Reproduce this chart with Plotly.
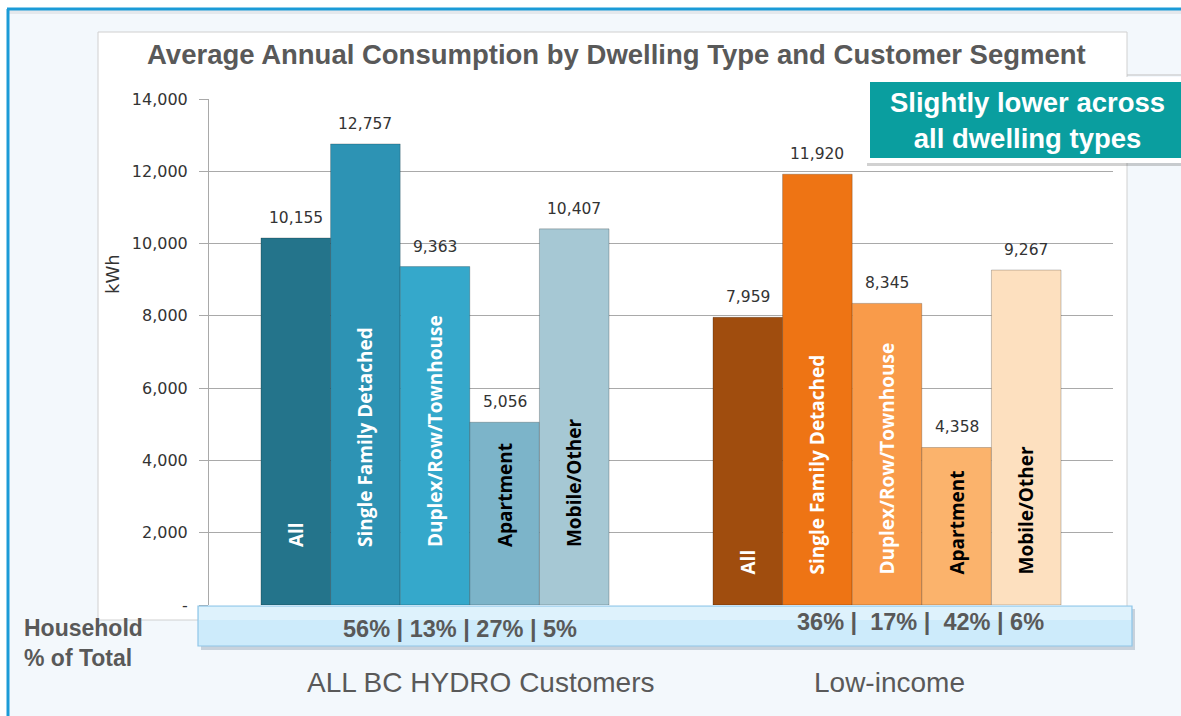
import plotly.graph_objects as go

# ---- data -------------------------------------------------------------
segments = ["ALL BC HYDRO Customers", "Low-income"]
dwelling_types = ["All", "Single Family Detached", "Duplex/Row/Townhouse",
                  "Apartment", "Mobile/Other"]
all_customers_kwh = [10155, 12757, 9363, 5056, 10407]
low_income_kwh = [7959, 11920, 8345, 4358, 9267]
household_share_all = ["56%", "13%", "27%", "5%"]
household_share_low = ["36%", "17%", "42%", "6%"]
y_ticks = [0, 2000, 4000, 6000, 8000, 10000, 12000, 14000]
y_tick_labels = ["-", "2,000", "4,000", "6,000", "8,000", "10,000", "12,000", "14,000"]

# ---- styling ----------------------------------------------------------
blues = ["#24748b", "#2d93b4", "#35a8cb", "#7cb4c9", "#a6c8d4"]
oranges = ["#a04d0e", "#ee7414", "#f99b4a", "#fbb36c", "#fde0bf"]
name_colors = ["white", "white", "white", "black", "black"]
name_base = [1520, 760]          # where the rotated names start in each group (kWh)
GRAY = "#595959"
SANS = "Liberation Sans, Arial, sans-serif"
BARGAP = 0.23

W, H = 1181, 716
L, R, T, B = 209, 1113, 99, 605   # plot area in pixels


def px(x):
    return (x - L) / (R - L)


def py(y):
    return (B - y) / (B - T)


# width of one bar in pixels, used to centre the value labels over the bars
n_types = len(dwelling_types)
bar_px = (R - L) / len(segments) * (1 - BARGAP) / n_types

fig = go.Figure()

value_annotations = []
for i, name in enumerate(dwelling_types):
    vals = [all_customers_kwh[i], low_income_kwh[i]]
    fig.add_trace(go.Bar(
        x=segments, y=vals,
        marker=dict(color=[blues[i], oranges[i]],
                    line=dict(color="rgba(0,0,0,0.22)", width=1)),
        offsetgroup=str(i),
        hoverinfo="skip",
        showlegend=False,
    ))
    # rotated dwelling-type names inside each bar
    fig.add_trace(go.Bar(
        x=segments, y=[v - b for v, b in zip(vals, name_base)], base=name_base,
        marker=dict(color="rgba(0,0,0,0)", line=dict(width=0)),
        text=[name, name],
        textposition="inside", insidetextanchor="start", textangle=-90,
        constraintext="none",
        insidetextfont=dict(family="Open Sans", size=19, color=name_colors[i],
                            weight="bold"),
        offsetgroup=str(i),
        hoverinfo="skip",
        showlegend=False,
    ))
    for seg, v in zip(segments, vals):
        value_annotations.append(dict(
            text=f"{v:,}", xref="x", yref="y", x=seg, y=v,
            xshift=(i - (n_types - 1) / 2) * bar_px, yshift=9,
            showarrow=False, xanchor="center", yanchor="bottom",
            font=dict(family="DejaVu Sans", size=15.5, color="#333333")))

shapes = []
# slide background and frame
shapes.append(dict(type="rect", xref="paper", yref="paper",
                   x0=px(0), x1=px(W), y0=py(H), y1=py(0),
                   fillcolor="#f3f8fc", line=dict(width=0), layer="below"))
shapes.append(dict(type="rect", xref="paper", yref="paper",
                   x0=px(0), x1=px(W), y0=py(8), y1=py(0),
                   fillcolor="white", line=dict(width=0), layer="below"))
shapes.append(dict(type="rect", xref="paper", yref="paper",
                   x0=px(0), x1=px(7), y0=py(H), y1=py(0),
                   fillcolor="white", line=dict(width=0), layer="below"))
shapes.append(dict(type="rect", xref="paper", yref="paper",
                   x0=px(8), x1=px(W), y0=py(14), y1=py(10),
                   fillcolor="#e4e8ec", line=dict(width=0), layer="below"))
shapes.append(dict(type="line", xref="paper", yref="paper",
                   x0=px(7), x1=px(W), y0=py(9), y1=py(9),
                   line=dict(color="#1b9bd7", width=3), layer="below"))
shapes.append(dict(type="line", xref="paper", yref="paper",
                   x0=px(8), x1=px(8), y0=py(9), y1=py(H),
                   line=dict(color="#1b9bd7", width=3), layer="below"))
# white chart panel
shapes.append(dict(type="rect", xref="paper", yref="paper",
                   x0=px(98), x1=px(1127), y0=py(620), y1=py(32),
                   fillcolor="white", line=dict(color="#d0d0d0", width=1),
                   layer="below"))
shapes.append(dict(type="line", xref="paper", yref="paper",
                   x0=px(1127), x1=px(W), y0=py(75), y1=py(75),
                   line=dict(color="#c0c0c0", width=1), layer="below"))

# household share strip (shadow, body, highlight)
shapes.append(dict(type="rect", xref="paper", yref="paper",
                   x0=px(201), x1=px(1135), y0=py(650), y1=py(609),
                   fillcolor="rgba(120,140,160,0.35)", line=dict(width=0)))
shapes.append(dict(type="rect", xref="paper", yref="paper",
                   x0=px(198), x1=px(1132), y0=py(646), y1=py(606),
                   fillcolor="#cdebfb", line=dict(color="#8fc6e8", width=1.2)))
shapes.append(dict(type="rect", xref="paper", yref="paper",
                   x0=px(199), x1=px(1131), y0=py(620), y1=py(607),
                   fillcolor="rgba(255,255,255,0.35)", line=dict(width=0)))

# call-out box
shapes.append(dict(type="rect", xref="paper", yref="paper",
                   x0=px(867), x1=px(W + 5), y0=py(166), y1=py(80),
                   fillcolor="rgba(0,0,0,0.18)", line=dict(width=0)))
shapes.append(dict(type="rect", xref="paper", yref="paper",
                   x0=px(864), x1=px(W + 5), y0=py(163), y1=py(77),
                   fillcolor="white", line=dict(width=0)))
shapes.append(dict(type="rect", xref="paper", yref="paper",
                   x0=px(870), x1=px(W + 5), y0=py(158), y1=py(82),
                   fillcolor="#0a9e9f", line=dict(width=0)))

annotations = value_annotations + [
    dict(text="Average Annual Consumption by Dwelling Type and Customer Segment",
         xref="paper", yref="paper", x=px(616), y=py(54),
         showarrow=False, xanchor="center", yanchor="middle",
         font=dict(family=SANS, size=27.5, color=GRAY, weight="bold")),
    dict(text="Slightly lower across<br>all dwelling types",
         xref="paper", yref="paper", x=px(1027), y=py(120),
         showarrow=False, xanchor="center", yanchor="middle",
         font=dict(family=SANS, size=27.5, color="white", weight="bold")),
    dict(text="kWh", xref="paper", yref="paper", x=px(112), y=py(274),
         textangle=-90, showarrow=False, xanchor="center", yanchor="middle",
         font=dict(family="DejaVu Sans", size=18, color="#333333")),
    dict(text="Household<br>% of Total", xref="paper", yref="paper",
         x=px(22), y=py(643), showarrow=False, xanchor="left", yanchor="middle",
         align="left",
         font=dict(family=SANS, size=23, color=GRAY, weight="bold")),
    dict(text=" | ".join(household_share_all), xref="x", yref="paper",
         x=segments[0], xshift=25, y=py(629), showarrow=False,
         xanchor="center", yanchor="middle",
         font=dict(family=SANS, size=23.5, color=GRAY, weight="bold")),
    dict(text=" |  ".join(household_share_low[:3]) + " | " + household_share_low[3],
         xref="x", yref="paper", x=segments[1], xshift=33, y=py(622),
         showarrow=False, xanchor="center", yanchor="middle",
         font=dict(family=SANS, size=23.5, color=GRAY, weight="bold")),
    dict(text=segments[0], xref="x", yref="paper", x=segments[0], xshift=46,
         y=py(682), showarrow=False, xanchor="center", yanchor="middle",
         font=dict(family=SANS, size=28, color=GRAY)),
    dict(text=segments[1], xref="x", yref="paper", x=segments[1], xshift=2,
         y=py(682), showarrow=False, xanchor="center", yanchor="middle",
         font=dict(family=SANS, size=28, color=GRAY)),
]

fig.update_layout(
    width=W, height=H,
    margin=dict(l=L, r=W - R, t=T, b=H - B, pad=0),
    paper_bgcolor="#f3f8fc",
    plot_bgcolor="rgba(0,0,0,0)",
    barmode="group", bargap=BARGAP, bargroupgap=0,
    shapes=shapes, annotations=annotations,
    showlegend=False,
    xaxis=dict(showticklabels=False, showgrid=False, zeroline=False,
               showline=False, ticks=""),
    yaxis=dict(range=[0, 14000], tickvals=y_ticks, ticktext=y_tick_labels,
               showgrid=True, gridcolor="#a9a9a9", gridwidth=1,
               zeroline=False, showline=True, linecolor="#a9a9a9", linewidth=1,
               ticks="outside", ticklen=9, tickcolor="#a9a9a9",
               ticklabelstandoff=8,
               tickfont=dict(family="DejaVu Sans", size=16, color="#333333")),
)

fig.write_html("out.html")
